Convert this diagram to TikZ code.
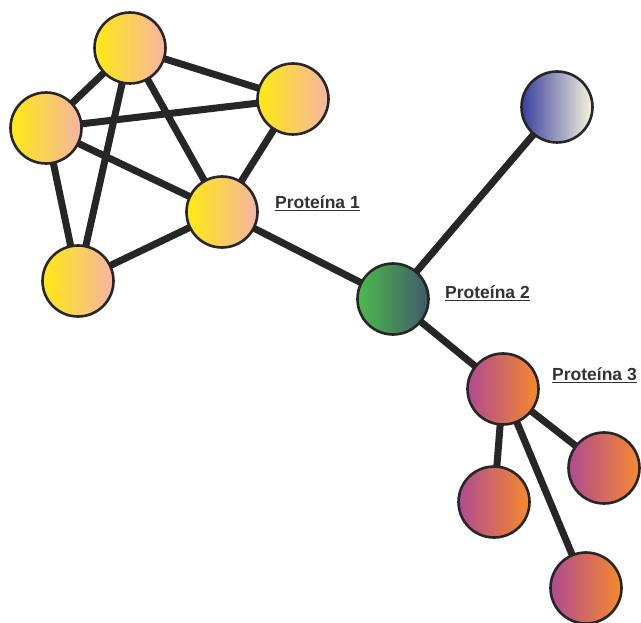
\documentclass[tikz,border=0pt]{standalone}
\usepackage{fontspec}
\setmainfont{Liberation Sans}
\begin{document}
\begin{tikzpicture}[x=1pt,y=-1pt,
  prot/.style={circle,draw=black!85,line width=2.6pt,minimum size=71pt,inner sep=0pt,shading=axis,shading angle=90},
  yel/.style={prot,left color=yelL,right color=yelR},
  blu/.style={prot,left color=bluL,right color=bluR},
  grn/.style={prot,left color=grnL,right color=grnR},
  org/.style={prot,left color=orgL,right color=orgR},
  link/.style={line width=7pt,draw=black!85},
  lbl/.style={anchor=base west,inner sep=0pt,text=black!80,font=\fontsize{17.5}{20}\selectfont\bfseries}
]
\definecolor{yelL}{HTML}{FFEA10}
\definecolor{yelR}{HTML}{F6B4A6}
\definecolor{bluL}{HTML}{3A3F9E}
\definecolor{bluR}{HTML}{F8F5DC}
\definecolor{grnL}{HTML}{4DBA4A}
\definecolor{grnR}{HTML}{3F5A6A}
\definecolor{orgL}{HTML}{B04A92}
\definecolor{orgR}{HTML}{F58A2C}
\useasboundingbox (0,0) rectangle (641,623);
\fill[white] (0,0) rectangle (641,623);

% node positions
\coordinate (pA) at (130,48);
\coordinate (pB) at (293,99);
\coordinate (pC) at (46,128);
\coordinate (pD) at (222,212);
\coordinate (pE) at (78,281);
\coordinate (pF) at (557,107);
\coordinate (pG) at (393,299);
\coordinate (pH) at (503,389);
\coordinate (pI) at (604,468);
\coordinate (pJ) at (494,502);
\coordinate (pK) at (586,588);

% connectors (behind the circles)
\draw[link] (pA) -- (pB);
\draw[link] (pA) -- (pC);
\draw[link] (pA) -- (pD);
\draw[link] (pA) -- (pE);
\draw[link] (pC) -- (pB);
\draw[link] (pC) -- (pD);
\draw[link] (pC) -- (pE);
\draw[link] (pB) -- (pD);
\draw[link] (pD) -- (pE);
\draw[link] (pD) -- (pG);
\draw[link] (pG) -- (pF);
\draw[link] (pG) -- (pH);
\draw[link] (pH) -- (pI);
\draw[link] (pH) -- (pJ);
\draw[link] (pH) -- (pK);

% proteins
\node[yel] (a) at (pA) {};
\node[yel] (b) at (pB) {};
\node[yel] (c) at (pC) {};
\node[yel] (d) at (pD) {};
\node[yel] (e) at (pE) {};
\node[blu] (f) at (pF) {};
\node[grn] (g) at (pG) {};
\node[org] (h) at (pH) {};
\node[org] (i) at (pI) {};
\node[org] (j) at (pJ) {};
\node[org] (k) at (pK) {};

% labels
\node[lbl] (l1) at (275,209) {\underline{Proteína 1}};
\node[lbl] (l2) at (445,299) {\underline{Proteína 2}};
\node[lbl] (l3) at (552,381) {\underline{Proteína 3}};
\end{tikzpicture}
\end{document}
